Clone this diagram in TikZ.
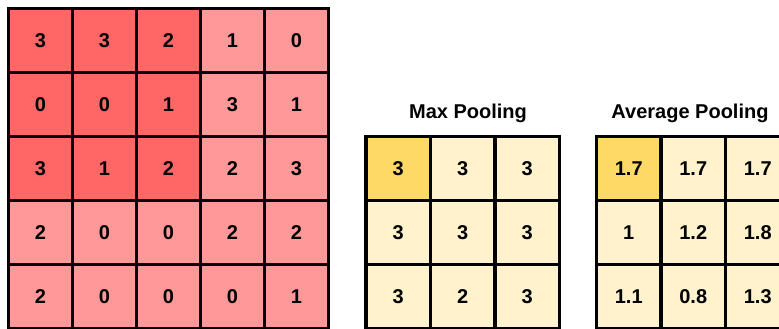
\documentclass[tikz,border=0pt]{standalone}
\usepackage{fontspec}
\setmainfont{Liberation Sans}
\usetikzlibrary{positioning}
\definecolor{poolred}{HTML}{FF6666}
\definecolor{poolpink}{HTML}{FF9999}
\definecolor{poolgold}{HTML}{FFD966}
\definecolor{poolcream}{HTML}{FFF2CC}
\tikzset{
  cell/.style={draw=black, line width=3.5pt, minimum width=64pt, minimum height=64pt, inner sep=0pt, font=\fontsize{20}{22}\selectfont\bfseries},
  poolcell/.style={cell, minimum width=64.5pt},
  gridtitle/.style={font=\fontsize{20}{23}\selectfont\bfseries}
}

\begin{document}
\begin{tikzpicture}[x=1pt, y=-1pt]
  \useasboundingbox (0,0) rectangle (779,329);
  % Eingabe 5x5
  \foreach \row [count=\r from 0] in {{3,3,2,1,0},{0,0,1,3,1},{3,1,2,2,3},{2,0,0,2,2},{2,0,0,0,1}} {
    \foreach \v [count=\c from 0] in \row {
      \ifnum\r<3 \ifnum\c<3 \def\cellcol{poolred}\else\def\cellcol{poolpink}\fi\else\def\cellcol{poolpink}\fi
      \node[cell, fill=\cellcol] (in-\r-\c) at ({40.5+64*\c},{40.5+64*\r}) {\v};
    }
  }
  % Max Pooling
  \node[gridtitle] (maxtitle) at (468,113) {Max Pooling};
  \foreach \row [count=\r from 0] in {{3,3,3},{3,3,3},{3,2,3}} {
    \foreach \v [count=\c from 0] in \row {
      \node[poolcell, fill=poolcream] (max-\r-\c) at ({398.25+64.5*\c},{168.5+64*\r}) {\v};
    }
  }
  \node[poolcell, fill=poolgold] (max-hit) at (max-0-0) {3};
  % Average Pooling
  \node[gridtitle] (avgtitle) at (690,113) {Average Pooling};
  \foreach \row [count=\r from 0] in {{1.7,1.7,1.7},{1,1.2,1.8},{1.1,0.8,1.3}} {
    \foreach \v [count=\c from 0] in \row {
      \node[poolcell, fill=poolcream] (avg-\r-\c) at ({628.75+64.5*\c},{168.5+64*\r}) {\v};
    }
  }
  \node[poolcell, fill=poolgold] (avg-hit) at (avg-0-0) {1.7};
\end{tikzpicture}
\end{document}
